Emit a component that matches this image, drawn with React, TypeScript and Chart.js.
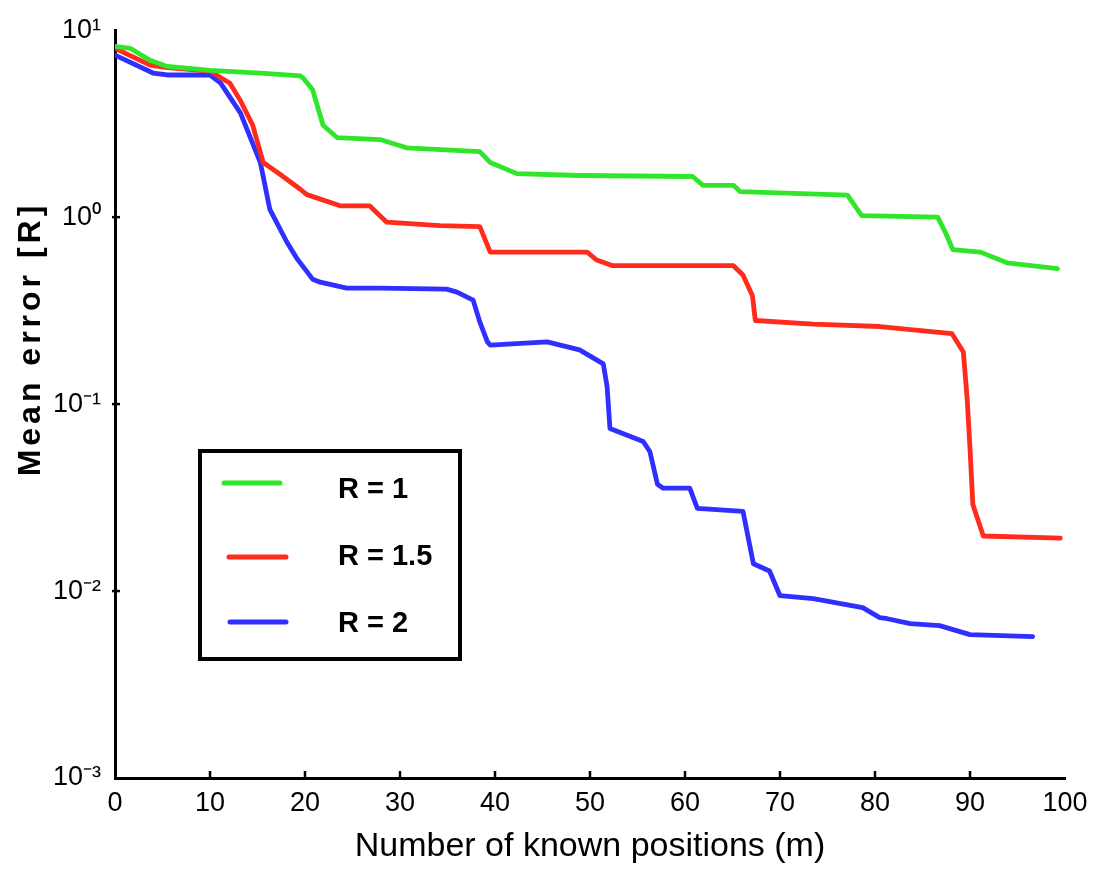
import { useEffect, useRef } from 'react';
import { Chart, registerables } from 'chart.js';

Chart.register(...registerables);

// ---------- data ----------
const seriesLabels = ['R = 1', 'R = 1.5', 'R = 2'];
const seriesColors = ['#30e62a', '#ff2b1c', '#2f2fff'];

const greenX = [0, 1.6, 3.7, 5.5, 10, 15.3, 19.5, 19.8, 20.8, 21.9, 23.4, 27.9, 30.7, 38.4, 39.5, 42.3, 48.9, 60.8, 61.9, 65.1, 65.8, 77.1, 78.6, 86.6, 87.4, 88.2, 91.1, 93.9, 99.2];
const greenY = [8.2, 8.0, 6.9, 6.4, 6.1, 5.9, 5.7, 5.55, 4.8, 3.1, 2.66, 2.6, 2.35, 2.24, 1.96, 1.71, 1.67, 1.65, 1.48, 1.48, 1.37, 1.31, 1.02, 1.0, 0.83, 0.67, 0.65, 0.57, 0.53];

const redX = [0, 3.7, 5.5, 10, 12.1, 13.2, 14.5, 15.6, 17.4, 19.5, 20.2, 23.7, 26.8, 28.6, 34.2, 38.4, 39.5, 49.7, 50.7, 52.4, 65.1, 66.1, 67.1, 67.4, 73.5, 80.5, 88.1, 89.3, 89.7, 90.0, 90.3, 91.4, 99.5];
const redY = [8.0, 6.5, 6.3, 6.05, 5.2, 4.2, 3.1, 1.96, 1.69, 1.41, 1.32, 1.15, 1.15, 0.94, 0.9, 0.89, 0.65, 0.65, 0.59, 0.55, 0.55, 0.49, 0.38, 0.28, 0.268, 0.26, 0.238, 0.19, 0.107, 0.058, 0.029, 0.0197, 0.0192];

const blueX = [0, 4, 5.5, 10, 11.1, 13.2, 15.3, 16.3, 18.1, 19.2, 20.8, 21.6, 24.4, 27.9, 34.9, 36, 37.7, 38.4, 39.2, 39.5, 45.5, 48.9, 51.4, 51.8, 52.1, 55.6, 56.3, 57.1, 57.7, 60.5, 61.3, 66.1, 67.2, 68.9, 70, 73.5, 78.7, 80.5, 81.3, 83.7, 86.8, 90, 96.6];
const blueY = [7.36, 5.9, 5.76, 5.76, 5.23, 3.61, 1.96, 1.1, 0.734, 0.596, 0.466, 0.449, 0.417, 0.417, 0.412, 0.397, 0.36, 0.275, 0.215, 0.207, 0.215, 0.195, 0.164, 0.124, 0.0741, 0.0631, 0.0558, 0.0373, 0.0355, 0.0355, 0.0277, 0.0267, 0.014, 0.0128, 0.00944, 0.0091, 0.00815, 0.00721, 0.00711, 0.0067, 0.00653, 0.00585, 0.00571];

const xTickValues = [0, 10, 20, 30, 40, 50, 60, 70, 80, 90, 100];
const yTickValues = [0.001, 0.01, 0.1, 1, 10];
const yTickLabels = ['10⁻³', '10⁻²', '10⁻¹', '10⁰', '10¹'];
const xTitle = 'Number of known positions (m)';
const yTitle = 'Mean error [R]';

const FONT = '"Liberation Sans", Arial, Helvetica, sans-serif';

const toPoints = (xs: number[], ys: number[]) => xs.map((x, i) => ({ x, y: ys[i] }));

const decorPlugin = {
  id: 'decor',
  afterDraw(chart: any) {
    const ctx = chart.ctx;
    const xs = chart.scales.x;
    const ys = chart.scales.y;
    const area = chart.chartArea;
    ctx.save();
    // inner tick marks on x axis
    ctx.strokeStyle = '#000';
    ctx.lineWidth = 2.5;
    xTickValues.slice(1, -1).forEach((v) => {
      const px = xs.getPixelForValue(v);
      ctx.beginPath();
      ctx.moveTo(px, area.bottom);
      ctx.lineTo(px, area.bottom - 7);
      ctx.stroke();
    });
    // small tick marks on y axis
    yTickValues.slice(1, -1).forEach((v) => {
      const py = ys.getPixelForValue(v);
      ctx.beginPath();
      ctx.moveTo(area.left - 3, py);
      ctx.lineTo(area.left + 5, py);
      ctx.stroke();
    });

    // y title
    ctx.save();
    ctx.translate(31, 339);
    ctx.rotate(-Math.PI / 2);
    ctx.fillStyle = '#000';
    ctx.font = `bold 32px ${FONT}`;
    ctx.textAlign = 'center';
    ctx.textBaseline = 'middle';
    try { (ctx as any).letterSpacing = '4px'; } catch (e) {}
    ctx.fillText(yTitle, 0, 0);
    ctx.restore();

    // legend box
    const bx = 200, by = 451, bw = 260, bh = 208;
    ctx.fillStyle = '#fff';
    ctx.fillRect(bx, by, bw, bh);
    ctx.strokeStyle = '#000';
    ctx.lineWidth = 4;
    ctx.strokeRect(bx, by, bw, bh);
    const rows = [
      { x0: 224, x1: 280, ly: 483, ty: 498 },
      { x0: 229, x1: 286, ly: 557, ty: 565 },
      { x0: 230, x1: 286, ly: 622, ty: 632 },
    ];
    chart.data.datasets.forEach((ds: any, i: number) => {
      const r = rows[i];
      ctx.strokeStyle = ds.borderColor;
      ctx.lineWidth = 5;
      ctx.lineCap = 'round';
      ctx.beginPath();
      ctx.moveTo(r.x0, r.ly);
      ctx.lineTo(r.x1, r.ly);
      ctx.stroke();
      ctx.fillStyle = '#000';
      ctx.font = `bold 29px ${FONT}`;
      ctx.textAlign = 'left';
      ctx.textBaseline = 'alphabetic';
      ctx.fillText(ds.label, 338, r.ty);
    });
    ctx.restore();
  },
};

export default function App() {
  const ref = useRef<HTMLCanvasElement>(null);
  useEffect(() => {
    document.body.style.margin = '0';
    const chart = new Chart(ref.current as HTMLCanvasElement, {
      type: 'line',
      data: {
        datasets: [
          { label: seriesLabels[0], data: toPoints(greenX, greenY), borderColor: seriesColors[0] },
          { label: seriesLabels[1], data: toPoints(redX, redY), borderColor: seriesColors[1] },
          { label: seriesLabels[2], data: toPoints(blueX, blueY), borderColor: seriesColors[2] },
        ].map((d) => ({ ...d, borderWidth: 4.8, pointRadius: 0, tension: 0, fill: false, borderJoinStyle: 'round' as const, borderCapStyle: 'round' as const })),
      },
      options: {
        responsive: false,
        animation: false,
        layout: { padding: { left: 0, top: 27, right: 33, bottom: 0 } },
        plugins: { legend: { display: false }, tooltip: { enabled: false } },
        scales: {
          x: {
            type: 'linear',
            min: 0,
            max: 100,
            afterBuildTicks: (s: any) => { s.ticks = xTickValues.map((v) => ({ value: v })); },
            afterFit: (s: any) => { s.height = 92; },
            grid: { display: false, drawTicks: false },
            border: { display: true, color: '#000', width: 3 },
            ticks: {
              color: '#000',
              font: { family: FONT, size: 27 },
              padding: 9,
              maxRotation: 0,
              autoSkip: false,
              callback: (v: any) => String(v),
            },
            title: {
              display: true,
              text: xTitle,
              color: '#000',
              font: { family: FONT, size: 34 },
              padding: { top: 0, bottom: 3 },
            },
          },
          y: {
            type: 'logarithmic',
            min: 0.001,
            max: 10,
            afterBuildTicks: (s: any) => { s.ticks = yTickValues.map((v) => ({ value: v })); },
            afterFit: (s: any) => { s.width = 115; },
            grid: { display: false, drawTicks: false },
            border: { display: true, color: '#000', width: 3 },
            ticks: {
              color: '#000',
              font: { family: FONT, size: 27 },
              padding: 14,
              autoSkip: false,
              callback: (v: any) => {
                const i = yTickValues.indexOf(Number(v));
                return i >= 0 ? yTickLabels[i] : '';
              },
            },
          },
        },
      } as any,
      plugins: [decorPlugin],
    });
    return () => chart.destroy();
  }, []);
  return <canvas ref={ref} width={1098} height={870} style={{ display: 'block' }} />;
}
